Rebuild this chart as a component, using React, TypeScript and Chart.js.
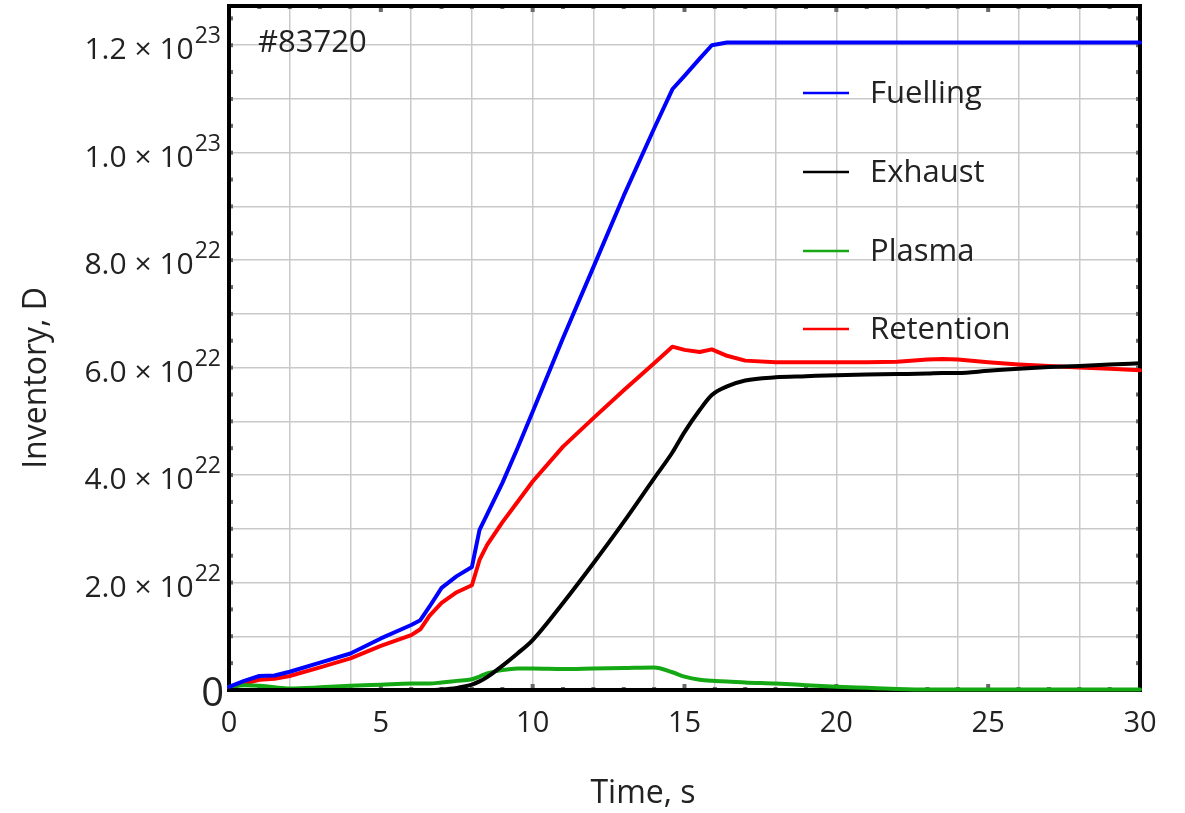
import React, { useEffect, useRef } from "react";
import { Chart, registerables } from "chart.js";

Chart.register(...registerables);

// Time axis (s)
const times = [0, 0.5, 1, 1.5, 2, 3, 4, 5, 6, 6.3, 6.6, 7, 7.5, 8, 8.25, 8.5, 9, 9.5, 10, 11, 12, 13, 14, 14.6, 15, 15.5, 15.9, 16.4, 17, 18, 19, 20, 21, 22, 23, 23.5, 24, 25, 26, 27, 28, 29, 30];

// Inventories in units of 1e22 D
const fuelling = [0.06, 0.17, 0.26, 0.27, 0.34, 0.51, 0.68, 0.96, 1.21, 1.3, 1.55, 1.9, 2.12, 2.29, 2.98, 3.27, 3.85, 4.5, 5.18, 6.55, 7.87, 9.2, 10.45, 11.18, 11.43, 11.75, 12.0, 12.05, 12.05, 12.05, 12.05, 12.05, 12.05, 12.05, 12.05, 12.05, 12.05, 12.05, 12.05, 12.05, 12.05, 12.05, 12.05];
const exhaust = [0, 0, 0, 0, 0, 0, 0, 0, 0, 0, 0, 0.01, 0.04, 0.1, 0.16, 0.24, 0.45, 0.68, 0.93, 1.62, 2.36, 3.13, 3.94, 4.42, 4.8, 5.21, 5.49, 5.65, 5.76, 5.82, 5.84, 5.86, 5.87, 5.88, 5.89, 5.9, 5.9, 5.94, 5.98, 6.01, 6.03, 6.06, 6.08];
const plasma = [0.06, 0.09, 0.08, 0.05, 0.03, 0.05, 0.08, 0.1, 0.12, 0.12, 0.12, 0.14, 0.17, 0.2, 0.25, 0.31, 0.37, 0.4, 0.4, 0.39, 0.4, 0.41, 0.42, 0.33, 0.25, 0.19, 0.17, 0.16, 0.14, 0.12, 0.09, 0.06, 0.04, 0.02, 0.01, 0.01, 0.01, 0.01, 0.01, 0.01, 0.01, 0.01, 0.01];
const retention = [0.03, 0.12, 0.19, 0.21, 0.26, 0.42, 0.59, 0.82, 1.02, 1.13, 1.38, 1.62, 1.82, 1.95, 2.42, 2.7, 3.12, 3.5, 3.88, 4.53, 5.06, 5.58, 6.08, 6.39, 6.33, 6.29, 6.34, 6.22, 6.13, 6.1, 6.1, 6.1, 6.1, 6.11, 6.15, 6.16, 6.15, 6.1, 6.06, 6.03, 6.0, 5.98, 5.95];

const seriesNames = ["Fuelling", "Exhaust", "Plasma", "Retention"];
const seriesColors = ["#0000ff", "#000000", "#14a814", "#ff0000"];
const seriesSmooth = [false, true, true, false];

// Tick labels
const xLabelValues = [0, 5, 10, 15, 20, 25, 30];
const yLabelValues = [2, 4, 6, 8, 10, 12];
const yLabelMantissas = ["2.0", "4.0", "6.0", "8.0", "1.0", "1.2"];
const yLabelExponents = ["22", "22", "22", "22", "23", "23"];

const shotLabel = "#83720";
const xTitle = "Time, s";
const yTitle = "Inventory, D";

const FONT = "'Open Sans', 'DejaVu Sans', sans-serif";
const TEXT = "#222222";

const isInt = (v: number) => Math.abs(v - Math.round(v)) < 1e-6;

const decorPlugin = {
  id: "decor",
  beforeDatasetsDraw(chart: any) {
    const { ctx, chartArea: a, scales } = chart;
    const xs = scales.x;
    const ys = scales.y;
    ctx.save();
    ctx.fillStyle = "#6a6a6a";
    for (let t = 1; t < 30; t++) {
      const px = xs.getPixelForValue(t);
      const major = t % 5 === 0;
      const h = major ? 6 : 3;
      ctx.fillRect(px - 2, a.bottom - h, 4, h);
      ctx.fillRect(px - 2, a.top, 4, h);
    }
    for (let k = 1; k <= 25; k++) {
      const v = k * 0.5;
      if (v > ys.max) break;
      const py = ys.getPixelForValue(v);
      const w = 4;
      ctx.fillRect(a.left, py - 2, w, 4);
      ctx.fillRect(a.right - w, py - 2, w, 4);
    }
    ctx.strokeStyle = "#000";
    ctx.lineWidth = 4;
    ctx.strokeRect(a.left, a.top, a.right - a.left, a.bottom - a.top);
    ctx.restore();
  },
  afterDraw(chart: any) {
    const { ctx, scales } = chart;
    const xs = scales.x;
    const ys = scales.y;
    ctx.save();
    ctx.fillStyle = TEXT;
    ctx.textBaseline = "alphabetic";

    // x tick labels
    ctx.font = `29px ${FONT}`;
    ctx.textAlign = "center";
    xLabelValues.forEach((v) => {
      ctx.fillText(String(v), xs.getPixelForValue(v), 732);
    });

    // y tick labels with superscript exponents
    const rightEdge = 221;
    yLabelValues.forEach((v, i) => {
      const py = ys.getPixelForValue(v);
      const base = py + 14;
      ctx.textAlign = "left";
      ctx.font = `23px ${FONT}`;
      const we = ctx.measureText(yLabelExponents[i]).width;
      ctx.fillText(yLabelExponents[i], rightEdge - we, base - 16);
      ctx.font = `30px ${FONT}`;
      const main = `${yLabelMantissas[i]} \u00d7 10`;
      const wm = ctx.measureText(main).width;
      ctx.fillText(main, rightEdge - we - 1 - wm, base);
    });
    ctx.font = `40px ${FONT}`;
    ctx.textAlign = "right";
    ctx.fillText("0", 224, ys.getPixelForValue(0) + 16);

    // axis titles
    ctx.font = `32px ${FONT}`;
    ctx.textAlign = "center";
    ctx.fillText(xTitle, 643, 803);
    ctx.save();
    ctx.translate(46, 378);
    ctx.rotate(-Math.PI / 2);
    ctx.fillText(yTitle, 0, 0);
    ctx.restore();

    // shot label
    ctx.font = `31px ${FONT}`;
    ctx.textAlign = "left";
    ctx.fillText(shotLabel, 258, 52);

    // legend
    const rows = [93, 172, 251, 329];
    seriesNames.forEach((name, i) => {
      ctx.strokeStyle = seriesColors[i];
      ctx.lineWidth = 2.5;
      ctx.beginPath();
      ctx.moveTo(803, rows[i]);
      ctx.lineTo(849, rows[i]);
      ctx.stroke();
      ctx.fillStyle = TEXT;
      ctx.font = `31px ${FONT}`;
      ctx.fillText(name, 870, rows[i] + 10);
    });
    ctx.restore();
  },
};

export default function App() {
  const ref = useRef<HTMLCanvasElement | null>(null);

  useEffect(() => {
    if (!ref.current) return;
    const series = [fuelling, exhaust, plasma, retention];
    const chart = new Chart(ref.current, {
      type: "line",
      data: {
        datasets: series.map((vals, i) => ({
          label: seriesNames[i],
          data: times.map((t, j) => ({ x: t, y: vals[j] })),
          borderColor: seriesColors[i],
          backgroundColor: seriesColors[i],
          borderWidth: 4,
          pointRadius: 0,
          tension: 0,
          cubicInterpolationMode: seriesSmooth[i] ? ("monotone" as const) : ("default" as const),
          fill: false,
          clip: false as any,
          borderJoinStyle: "round" as const,
          borderCapStyle: "round" as const,
        })),
      },
      options: {
        responsive: false,
        animation: false,
        devicePixelRatio: 1,
        layout: { padding: { top: 6, right: 45, left: 0, bottom: 0 } },
        plugins: { legend: { display: false }, tooltip: { enabled: false } },
        scales: {
          x: {
            type: "linear",
            min: 0,
            max: 30,
            ticks: { display: false, stepSize: 1, autoSkip: false },
            grid: {
              drawTicks: false,
              lineWidth: 1.5,
              color: (c: any) => (c.tick && isInt(c.tick.value) && Math.round(c.tick.value) % 2 === 0 ? "#c9c9c9" : "rgba(0,0,0,0)"),
            },
            border: { display: false },
            afterFit: (s: any) => {
              s.height = 813 - 690;
            },
          },
          y: {
            type: "linear",
            min: 0,
            max: 12.73,
            ticks: { display: false, stepSize: 0.5, autoSkip: false },
            grid: {
              drawTicks: false,
              lineWidth: 1.5,
              color: (c: any) => (c.tick && isInt(c.tick.value) ? "#c9c9c9" : "rgba(0,0,0,0)"),
            },
            border: { display: false },
            afterFit: (s: any) => {
              s.width = 229;
            },
          },
        },
      },
      plugins: [decorPlugin],
    });
    return () => chart.destroy();
  }, []);

  return (
    <div style={{ position: "absolute", left: 0, top: 0, width: 1185, height: 813, background: "#fff" }}>
      <canvas ref={ref} width={1185} height={813} style={{ width: 1185, height: 813, display: "block" }} />
    </div>
  );
}
